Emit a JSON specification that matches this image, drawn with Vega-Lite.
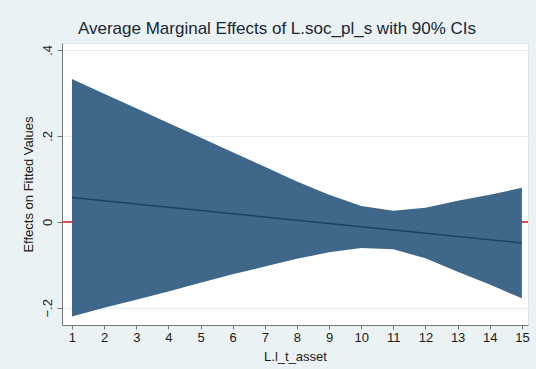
{
  "$schema": "https://vega.github.io/schema/vega-lite/v6.json",
  "autosize": {"type": "none"},
  "width": 466,
  "height": 282,
  "padding": {"left": 62, "top": 43, "right": 8, "bottom": 44},
  "background": "#EAF2F3",
  "title": {
    "text": "Average Marginal Effects of L.soc_pl_s with 90% CIs",
    "font": "Liberation Sans",
    "fontSize": 17,
    "fontWeight": "normal",
    "color": "#1A2636",
    "anchor": "middle",
    "dx": -18,
    "offset": 5
  },
  "data": {
    "values": [
      {"x": 1, "lo": -0.220, "hi": 0.332, "me": 0.0565},
      {"x": 2, "lo": -0.200, "hi": 0.298, "me": 0.0490},
      {"x": 3, "lo": -0.181, "hi": 0.264, "me": 0.0414},
      {"x": 4, "lo": -0.162, "hi": 0.230, "me": 0.0339},
      {"x": 5, "lo": -0.142, "hi": 0.196, "me": 0.0263},
      {"x": 6, "lo": -0.122, "hi": 0.162, "me": 0.0188},
      {"x": 7, "lo": -0.104, "hi": 0.128, "me": 0.0113},
      {"x": 8, "lo": -0.086, "hi": 0.094, "me": 0.0037},
      {"x": 9, "lo": -0.071, "hi": 0.063, "me": -0.0038},
      {"x": 10, "lo": -0.061, "hi": 0.037, "me": -0.0114},
      {"x": 11, "lo": -0.064, "hi": 0.026, "me": -0.0189},
      {"x": 12, "lo": -0.085, "hi": 0.033, "me": -0.0264},
      {"x": 13, "lo": -0.116, "hi": 0.049, "me": -0.0340},
      {"x": 14, "lo": -0.146, "hi": 0.063, "me": -0.0415},
      {"x": 15, "lo": -0.178, "hi": 0.079, "me": -0.0490}
    ]
  },
  "encoding": {
    "x": {
      "field": "x",
      "type": "quantitative",
      "scale": {"domain": [0.69, 15.19], "nice": false, "zero": false},
      "axis": {
        "title": "L.l_t_asset",
        "values": [1,2,3,4,5,6,7,8,9,10,11,12,13,14,15],
        "format": "d",
        "grid": false,
        "tickSize": 4,
        "labelPadding": 2,
        "titlePadding": 6,
        "labelFlush": false
      }
    }
  },
  "layer": [
    {
      "mark": {"type": "rule", "color": "#D9534F", "strokeWidth": 1},
      "encoding": {"y": {"datum": 0, "type": "quantitative"}, "x": null}
    },
    {
      "mark": {"type": "area", "color": "#3F6789", "opacity": 1},
      "encoding": {
        "y": {
          "field": "lo",
          "type": "quantitative",
          "scale": {"domain": [-0.24, 0.416], "nice": false, "zero": false},
          "axis": {
            "title": "Effects on Fitted Values",
            "values": [-0.2, 0, 0.2, 0.4],
            "labelExpr": "datum.value == 0 ? '0' : replace(format(datum.value, '.1f'), '0.', '.')",
            "labelAngle": 270,
            "labelAlign": "center",
            "labelBaseline": "bottom",
            "tickSize": 5,
            "labelPadding": 3,
            "titlePadding": 6,
            "grid": true,
            "gridColor": "#E6EEF0",
            "labelFlush": false
          }
        },
        "y2": {"field": "hi"}
      }
    },
    {
      "mark": {"type": "line", "color": "#1C4263", "strokeWidth": 1.5},
      "encoding": {"y": {"field": "me", "type": "quantitative"}}
    }
  ],
  "config": {
    "view": {"fill": "#FFFFFF", "stroke": "#DDE6E8"},
    "axis": {
      "labelFont": "Liberation Sans",
      "titleFont": "Liberation Sans",
      "labelFontSize": 13,
      "titleFontSize": 13,
      "titleFontWeight": "normal",
      "labelColor": "#1A1A1A",
      "titleColor": "#1A1A1A",
      "domainColor": "#777777",
      "tickColor": "#777777"
    }
  }
}
